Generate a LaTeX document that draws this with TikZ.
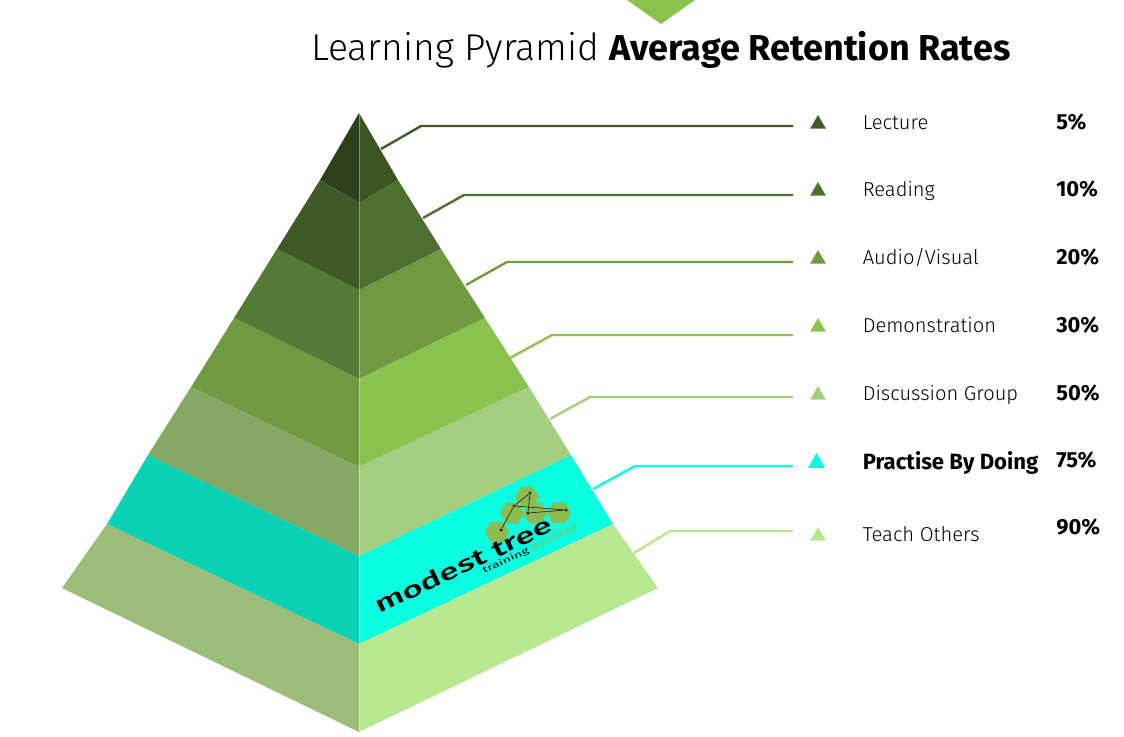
\documentclass[tikz,border=0pt]{standalone}
\usepackage{fontspec}
\setmainfont{Fira Sans}
\newfontfamily\lightfont{Fira Sans Light}
\newfontfamily\logofont{Fira Sans Medium}
\usetikzlibrary{shapes.geometric}

\definecolor{tipleft}{HTML}{2D401B}
\definecolor{tipright}{HTML}{3B5523}
\definecolor{readleft}{HTML}{3F5A26}
\definecolor{readright}{HTML}{4F6F30}
\definecolor{audioleft}{HTML}{557A33}
\definecolor{audioright}{HTML}{6F9A40}
\definecolor{demoleft}{HTML}{6F9A3F}
\definecolor{demoright}{HTML}{8BC24F}
\definecolor{groupleft}{HTML}{85A863}
\definecolor{groupright}{HTML}{A4CF80}
\definecolor{doingleft}{HTML}{0AD0B4}
\definecolor{doingright}{HTML}{0AFFE0}
\definecolor{teachleft}{HTML}{9BBD79}
\definecolor{teachright}{HTML}{B7E88F}
\definecolor{hexgreen}{HTML}{8CBC4F}

\tikzset{
  leader/.style={line width=1.8pt},
  marker/.style={regular polygon,regular polygon sides=3,minimum size=13.5pt,inner sep=0pt,outer sep=0pt},
  label/.style={anchor=base west,inner sep=0pt,font=\lightfont\fontsize{15.1}{18}\selectfont},
  rate/.style={anchor=base west,inner sep=0pt,font=\bfseries\fontsize{16.4}{18}\selectfont},
  hexa/.style={regular polygon,regular polygon sides=6,minimum size=18pt,inner sep=0pt,fill=hexgreen},
  dot/.style={circle,fill=black!85,minimum size=2.6pt,inner sep=0pt},
}

\begin{document}
\begin{tikzpicture}
        [x=.75pt,y=-.75pt]

        \useasboundingbox (0,0) rectangle (1124,736);

        \fill[demoright] (627,0) -- (695,0) -- (661,24) -- cycle;

        \node[anchor=base west,inner sep=0pt,font=\lightfont\fontsize{28}{32}\selectfont] (title) at (311,60) {Learning Pyramid};
        \node[anchor=base west,inner sep=0pt,font=\bfseries\fontsize{27}{32}\selectfont] (subtitle) at (609,60) {Average Retention Rates};

        \fill[tipleft] (359,113) -- (320,180) -- (359,203) -- cycle;
        \fill[tipright] (359,113) -- (398,180) -- (359,203) -- cycle;
        \fill[readleft] (320,180) -- (277,249) -- (359,290) -- (359,203) -- cycle;
        \fill[readright] (398,180) -- (441,249) -- (359,290) -- (359,203) -- cycle;
        \fill[audioleft] (277,249) -- (234,318) -- (359,379) -- (359,290) -- cycle;
        \fill[audioright] (441,249) -- (485,318) -- (359,379) -- (359,290) -- cycle;
        \fill[demoleft] (234,318) -- (191,387) -- (359,467) -- (359,379) -- cycle;
        \fill[demoright] (485,318) -- (529,387) -- (359,467) -- (359,379) -- cycle;
        \fill[groupleft] (191,387) -- (148,455) -- (359,556) -- (359,467) -- cycle;
        \fill[groupright] (529,387) -- (571,455) -- (359,556) -- (359,467) -- cycle;
        \fill[doingleft] (148,455) -- (107,524) -- (359,644) -- (359,556) -- cycle;
        \fill[doingright] (571,455) -- (613,524) -- (359,644) -- (359,556) -- cycle;
        \fill[teachleft] (107,524) -- (62,588) -- (359,732) -- (359,644) -- cycle;
        \fill[teachright] (613,524) -- (658,588) -- (359,732) -- (359,644) -- cycle;
        \draw[white,opacity=.35,line width=.5pt] (359,113) -- (359,732);

        \node[hexa] (hex1) at (497,532) {};
        \node[hexa] (hex2) at (512,513) {};
        \node[hexa] (hex3) at (527,497) {};
        \node[hexa] (hex4) at (535,513) {};
        \node[hexa] (hex5) at (559,513) {};
        \node[dot] (dot1) at (501,530) {};
        \node[dot] (dot2) at (514,506) {};
        \node[dot] (dot3) at (530,493) {};
        \node[dot] (dot4) at (528,513) {};
        \node[dot] (dot5) at (566,510) {};
        \draw[black!85,line width=.5pt] (dot1) -- (dot2) -- (dot3) -- (dot4) -- (dot5) -- (dot2);

        \node[rotate=25.5,anchor=base west,inner sep=0pt,font=\logofont\fontsize{17}{18}\selectfont] (logo) at (379,614) {\scalebox{1.55}[1]{modest tree}};
        \node[rotate=25.5,anchor=base west,inner sep=0pt,font=\fontsize{6.5}{7}\selectfont] (tagline) at (484,574) {\scalebox{1.65}[1]{training \textcolor{hexgreen}{evolved}}};

        \coordinate (a1) at (381,149);
        \coordinate (b1) at (421,126);
        \coordinate (c1) at (793,126);
        \coordinate (a2) at (423,218);
        \coordinate (b2) at (464,195);
        \coordinate (c2) at (793,195);
        \coordinate (a3) at (466,285);
        \coordinate (b3) at (507,262);
        \coordinate (c3) at (793,262);
        \coordinate (a4) at (510,358);
        \coordinate (b4) at (552,335);
        \coordinate (c4) at (793,335);
        \coordinate (a5) at (550,419);
        \coordinate (b5) at (590,397);
        \coordinate (c5) at (793,397);
        \coordinate (a6) at (593,489);
        \coordinate (b6) at (635,466);
        \coordinate (c6) at (793,466);
        \coordinate (a7) at (634,553);
        \coordinate (b7) at (670,531);
        \coordinate (c7) at (793,531);

        \draw[leader,readleft] (a1) -- (b1) -- (c1);
        \draw[leader,readright] (a2) -- (b2) -- (c2);
        \draw[leader,audioright] (a3) -- (b3) -- (c3);
        \draw[leader,demoright] (a4) -- (b4) -- (c4);
        \draw[leader,groupright] (a5) -- (b5) -- (c5);
        \draw[leader,doingright] (a6) -- (b6) -- (c6);
        \draw[leader,teachright] (a7) -- (b7) -- (c7);

        \node[marker,fill=readleft] (m1) at (818,124) {};
        \node[marker,fill=readright] (m2) at (818,191) {};
        \node[marker,fill=audioright] (m3) at (818,259) {};
        \node[marker,fill=demoright] (m4) at (818,327) {};
        \node[marker,fill=groupright] (m5) at (818,395) {};
        \node[marker,fill=doingright,minimum size=15pt] (m6) at (816.5,463) {};
        \node[marker,fill=teachright] (m7) at (818,536) {};

        \node[label] (l1) at (862.5,129) {Lecture};
        \node[label] (l2) at (862.5,196) {Reading};
        \node[label] (l3) at (862.5,264) {Audio/Visual};
        \node[label] (l4) at (862.5,332) {Demonstration};
        \node[label] (l5) at (862.5,400) {Discussion Group};
        \node[label,font=\bfseries\fontsize{16.6}{18}\selectfont] (l6) at (862.5,469) {Practise By Doing};
        \node[label] (l7) at (862.5,541) {Teach Others};

        \node[rate] (r1) at (1056,129) {5\%};
        \node[rate] (r2) at (1056,196) {10\%};
        \node[rate] (r3) at (1056,264) {20\%};
        \node[rate] (r4) at (1056,332) {30\%};
        \node[rate] (r5) at (1056,400) {50\%};
        \node[rate] (r6) at (1056,467) {75\%};
        \node[rate] (r7) at (1056,534) {90\%};
    \end{tikzpicture}
\end{document}
